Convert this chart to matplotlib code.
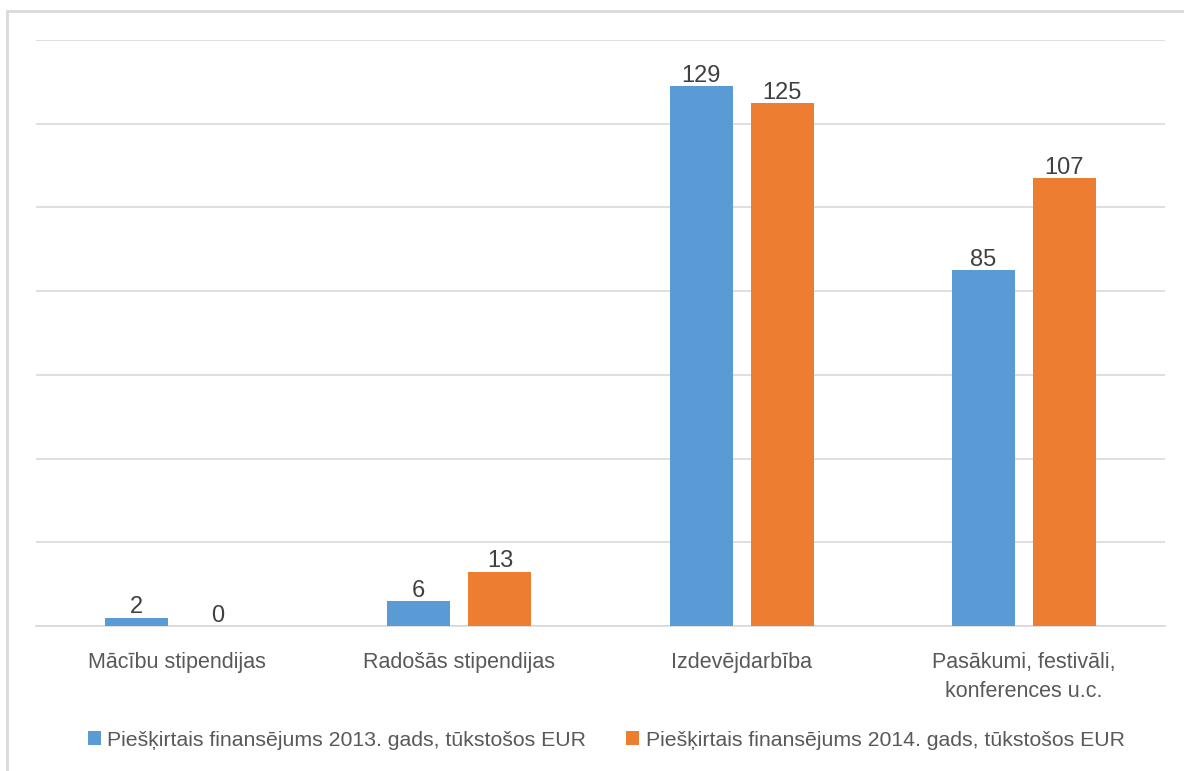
import matplotlib.pyplot as plt
import numpy as np
from matplotlib.patches import Rectangle

plt.rcParams['font.family'] = ['Liberation Sans', 'DejaVu Sans']

categories = ["Mācību stipendijas", "Radošās stipendijas", "Izdevējdarbība",
              "Pasākumi, festivāli,\nkonferences u.c."]
vals_2013 = [2, 6, 129, 85]
vals_2014 = [0, 13, 125, 107]
labels = ["Piešķirtais finansējums 2013. gads, tūkstošos EUR",
          "Piešķirtais finansējums 2014. gads, tūkstošos EUR"]

blue = "#5b9bd5"
orange = "#ed7d31"
text_col = "#595959"

W, H = 1184, 771
fig = plt.figure(figsize=(W / 100, H / 100), dpi=100)
ax = fig.add_axes([36 / W, (H - 626) / H, (1165 - 36) / W, (626 - 40) / H])

x = np.arange(len(categories))
bw = 0.223
off = 0.1435
b1 = ax.bar(x - off, vals_2013, bw, color=blue, label=labels[0], zorder=3)
b2 = ax.bar(x + off, vals_2014, bw, color=orange, label=labels[1], zorder=3)

# value labels sit just on top of each bar
for bars, vals in ((b1, vals_2013), (b2, vals_2014)):
    for rect, v in zip(bars, vals):
        ax.text(rect.get_x() + rect.get_width() / 2, v - 0.2, str(v),
                ha="center", va="bottom", fontsize=17, color="#404040", zorder=4)

ax.set_xlim(-0.5, 3.5)
ax.set_ylim(0, 140)
ax.set_yticks(np.arange(0, 141, 20))
ax.yaxis.grid(True, color="#d9d9d9", linewidth=1.2)
ax.set_yticklabels([])
ax.tick_params(axis="y", length=0)
ax.tick_params(axis="x", length=0, pad=19)
ax.set_xticks(x)
ax.set_xticklabels(categories, fontsize=15.5, color=text_col, linespacing=1.5)
for s in ["top", "right", "left"]:
    ax.spines[s].set_visible(False)
ax.spines["bottom"].set_color("#d9d9d9")
ax.spines["bottom"].set_linewidth(1.2)

fig.legend(loc="center", bbox_to_anchor=(0.512, (H - 740) / H), ncol=2, frameon=False,
           fontsize=15.3, labelcolor=text_col, handlelength=0.6, handleheight=0.6,
           handletextpad=0.3, columnspacing=1.9)

# light frame, only top and left edges visible
fig.patches.append(Rectangle((7 / W, -0.1), 1.2, (H - 11) / H + 0.1,
                             transform=fig.transFigure, fill=False,
                             edgecolor="#d9d9d9", linewidth=2))

fig.savefig("out.png", dpi=100)
